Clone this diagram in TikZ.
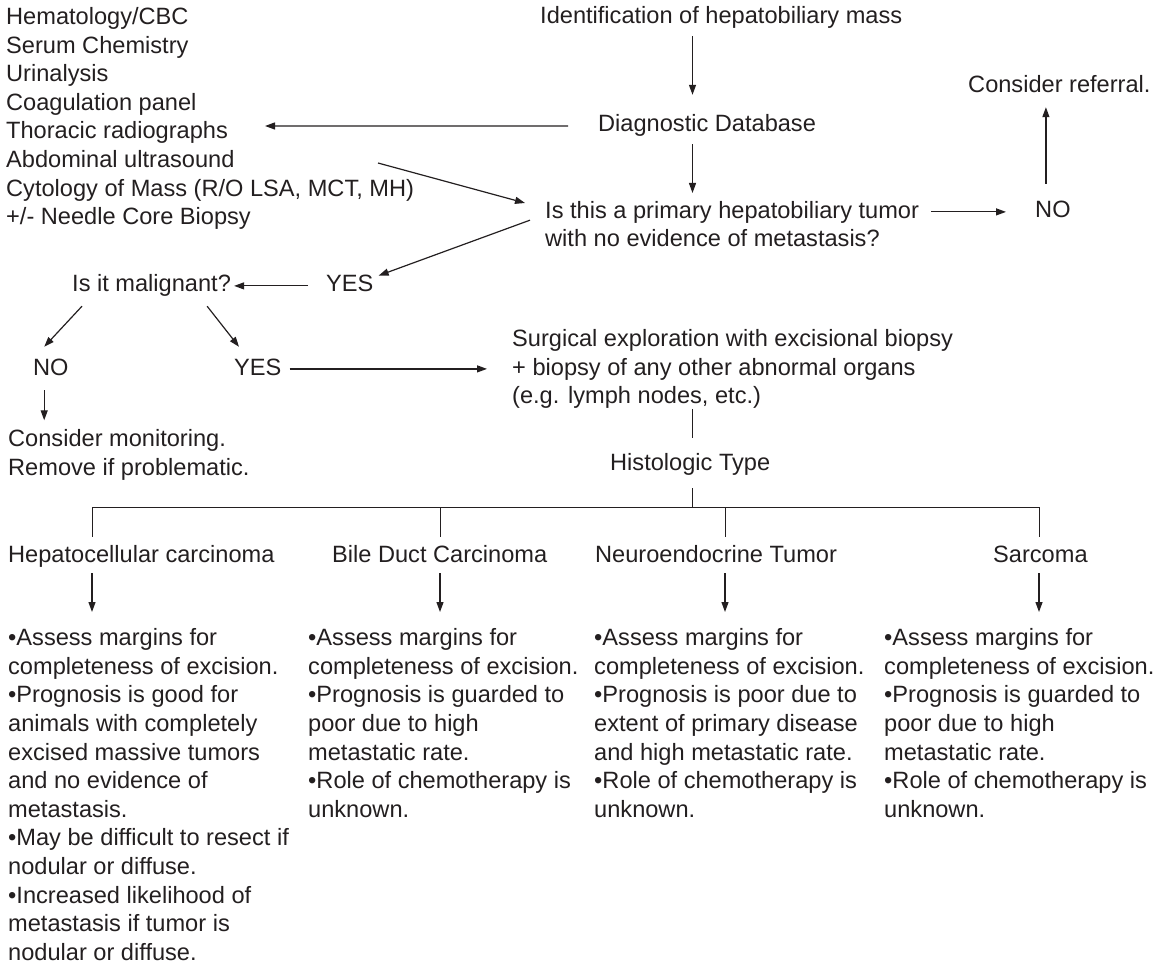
\documentclass[tikz,border=0pt]{standalone}
\usepackage{fontspec}
\setmainfont{Liberation Sans}
\usetikzlibrary{arrows.meta,calc}

\definecolor{ink}{RGB}{35,31,32}
\newcommand{\flowfont}{\fontsize{23.6}{28.6}\selectfont}

\tikzset{
  txt/.style={inner sep=0pt, font=\flowfont, text=ink, text height=17.2pt, text depth=5pt},
  para/.style={inner sep=0pt, font=\flowfont, text=ink, align=left},
  link/.style={draw=ink, line width=1pt},
  arr/.style={draw=ink, line width=1.2pt, -{Triangle[length=10pt,width=7pt]}}
}

\begin{document}
\begin{tikzpicture}[x=1pt,y=-1pt]
\useasboundingbox (0,0) rectangle (1172,965);

% --- top: database and first question ---
\node[para, anchor=north west] (list) at (6,7.3) {Hematology/CBC\\Serum Chemistry\\Urinalysis\\Coagulation panel\\Thoracic radiographs\\Abdominal ultrasound\\Cytology of Mass (R/O LSA, MCT, MH)\\+/- Needle Core Biopsy};
\node[txt, anchor=base west] (ident) at (540,23.5) {Identification of hepatobiliary mass};
\node[txt, anchor=base west] (diag) at (598,132) {Diagnostic Database};
\node[para, anchor=north west] (isthis) at (545,201) {Is this a primary hepatobiliary tumor\\with no evidence of metastasis?};
\node[txt, anchor=base west] (no1) at (1035,218) {NO};
\node[txt, anchor=base west] (refer) at (968,92.5) {Consider referral.};
\coordinate (spine) at (692.5,0);
\coordinate (thorax) at (265,126);
\coordinate (abdo) at (378,163);

\draw[arr, shorten <=7.5pt, shorten >=19.8pt] (ident.south -| spine) -- (diag.north -| spine);
\draw[arr, shorten <=7pt, shorten >=8pt] (diag.south -| spine) -- (isthis.north -| spine);
\draw[arr, shorten <=30pt] (diag.west) -- (thorax);
\draw[arr] (abdo) -- ($(isthis.north west)+(-20,2)$);
\draw[arr, shorten <=12pt, shorten >=29pt] (no1.west -| isthis.east) -- (no1.west);
\draw[arr, shorten <=17pt, shorten >=9.5pt] ([xshift=-7pt]no1.north) -- ([xshift=-7pt]no1.north |- refer.south);

% --- malignant? ---
\node[txt, anchor=base west] (malig) at (72,292) {Is it malignant?};
\node[txt, anchor=base west] (yes1) at (326,292) {YES};
\node[txt, anchor=base west] (no2) at (33,375) {NO};
\node[txt, anchor=base west] (yes2) at (234,375) {YES};
\node[para, anchor=north west] (monitor) at (8,429.3) {Consider monitoring.\\Remove if problematic.};
\node[para, anchor=north west] (surg) at (512,329.3) {Surgical exploration with excisional biopsy\\+ biopsy of any other abnormal organs\\(e.g. lymph nodes, etc.)};

\draw[arr] ($(isthis.west)+(-15,-4)$) -- ($(yes1.north east)+(5,1)$);
\draw[arr, shorten <=18pt, shorten >=3pt] (yes1.west) -- (yes1.west -| malig.east);
\draw[arr] ($(malig.south west)+(10,9)$) -- ($(no2.north)+(-6.7,-10.8)$);
\draw[arr] ($(malig.south east)+(-24,9)$) -- ($(yes2.north west)+(5,-10.8)$);
\draw[arr, shorten <=8pt, shorten >=25pt] (yes2.east) -- (yes2.east -| surg.west);
\draw[arr, shorten <=10pt, shorten >=9pt] ([xshift=-6.7pt]no2.south) -- ([xshift=-6.7pt]no2.south |- monitor.north);

% --- histologic type tree ---
\node[txt, anchor=base west] (hist) at (610,470.5) {Histologic Type};
\coordinate (bus) at (0,507);
\draw[link, shorten >=15.3pt] (surg.south -| spine) -- (hist.north -| spine);
\draw[link, shorten <=12.5pt] (hist.south -| spine) -- (bus -| spine);

\foreach \nm/\hx/\dx/\lbl in {hepa/8/92/Hepatocellular carcinoma, bile/332/440/Bile Duct Carcinoma, neuro/595/725/Neuroendocrine Tumor, sarc/993/1039/Sarcoma} {
  \node[txt, anchor=base west] (\nm) at (\hx,562.5) {\lbl};
  \coordinate (\nm-x) at (\dx,0);
}

\node[para, anchor=north west] (hepa-txt) at (8,628.3) {•Assess margins for\\completeness of excision.\\•Prognosis is good for\\animals with completely\\excised massive tumors\\and no evidence of\\metastasis.\\•May be difficult to resect if\\nodular or diffuse.\\•Increased likelihood of\\metastasis if tumor is\\nodular or diffuse.};
\node[para, anchor=north west] (bile-txt) at (308,628.3) {•Assess margins for\\completeness of excision.\\•Prognosis is guarded to\\poor due to high\\metastatic rate.\\•Role of chemotherapy is\\unknown.};
\node[para, anchor=north west] (neuro-txt) at (594,628.3) {•Assess margins for\\completeness of excision.\\•Prognosis is poor due to\\extent of primary disease\\and high metastatic rate.\\•Role of chemotherapy is\\unknown.};
\node[para, anchor=north west] (sarc-txt) at (884,628.3) {•Assess margins for\\completeness of excision.\\•Prognosis is guarded to\\poor due to high\\metastatic rate.\\•Role of chemotherapy is\\unknown.};

\draw[link, shorten <=8.3pt, shorten >=8.3pt] (hepa.north -| hepa-x) -- (bus -| hepa-x) -- (bus -| sarc-x) -- (sarc.north -| sarc-x);
\foreach \nm in {bile,neuro} {
  \draw[link, shorten >=8.3pt] (bus -| \nm-x) -- (\nm.north -| \nm-x);
}
\foreach \nm in {hepa,bile,neuro,sarc} {
  \draw[arr, shorten <=5.5pt, shorten >=16.3pt] (\nm.south -| \nm-x) -- (\nm-txt.north -| \nm-x);
}

\end{tikzpicture}
\end{document}
